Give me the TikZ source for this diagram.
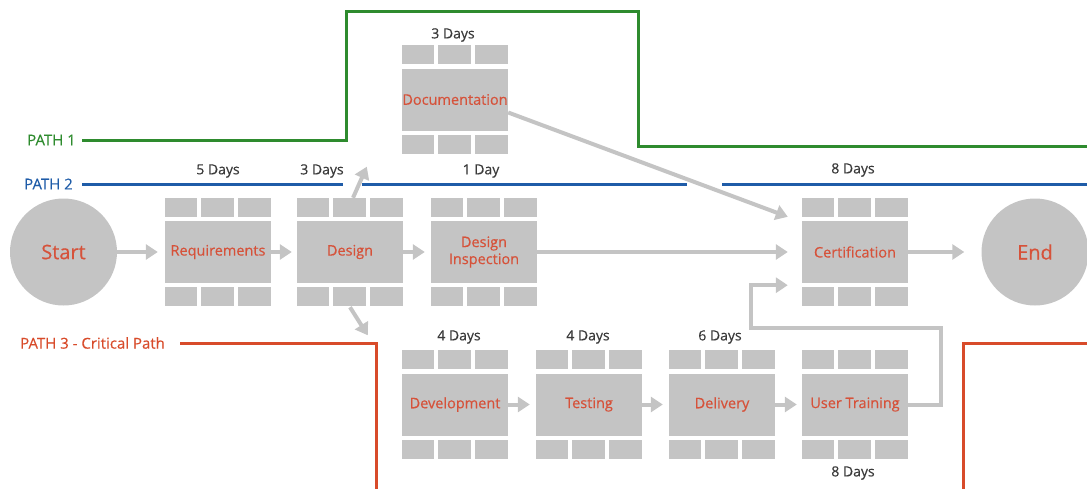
\documentclass[tikz,border=0pt]{standalone}
\usepackage{fontspec}
\setmainfont{Open Sans}[FakeBold=0.35]
\usetikzlibrary{arrows.meta,calc}

\definecolor{blockgray}{HTML}{C4C4C4}
\definecolor{labelred}{HTML}{D6523A}
\definecolor{pathgreen}{HTML}{2E8B2E}
\definecolor{pathblue}{HTML}{1F5CA8}
\definecolor{pathred}{HTML}{D84B2A}
\definecolor{daygray}{HTML}{3A3A3A}

\tikzset{
  task/.style={rectangle, fill=blockgray, minimum width=106pt, minimum height=62pt,
    inner sep=0pt, text=labelred, font=\fontsize{14.5}{17}\selectfont, align=center},
  terminal/.style={circle, fill=blockgray, minimum size=107pt, inner sep=0pt,
    text=labelred, font=\fontsize{20}{24}\selectfont},
  days/.style={text=daygray, font=\fontsize{14}{16}\selectfont, inner sep=0pt},
  pathlabel/.style={font=\fontsize{15}{17}\selectfont, inner sep=0pt, anchor=west},
  flow/.style={draw=blockgray, line width=4pt, line join=miter,
    -{Triangle[length=12pt,width=15pt]}},
  pathline/.style={line width=3pt},
}

% three small cells above and below a task block
\newcommand{\blockcells}[1]{%
  \foreach \k in {0,1,2}{%
    \fill[blockgray] ($(#1.north west)+(\k*36.67,-4)$) rectangle ++(32.67,-19);
    \fill[blockgray] ($(#1.south west)+(\k*36.67,4)$) rectangle ++(32.67,19);
  }}

\begin{document}
\begin{tikzpicture}[x=1pt, y=-1pt]
\useasboundingbox (0,0) rectangle (1087,488);

% path labels and path lines
\node[pathlabel, text=pathgreen] (p1) at (27,140) {PATH 1};
\node[pathlabel, text=pathblue] (p2) at (24,184) {PATH 2};
\node[pathlabel, text=pathred] (p3) at (20,343) {PATH 3 - Critical Path};

\draw[pathline, pathgreen] (82,140) -| (346,11) -| (638,146) -- (1090,146);
\draw[pathline, pathblue] (82,184) -- (343,184);
\draw[pathline, pathblue] (362,184) -- (687,184);
\draw[pathline, pathblue] (722,184) -- (1090,184);
\draw[pathline, pathred] (180,343) -| (376,492);
\draw[pathline, pathred] (963,492) |- (1090,343);

% start / end
\node[terminal] (start) at (63.5,252) {Start};
\node[terminal] (end) at (1035,252) {End};

% tasks
\node[task] (req) at (218,252) {Requirements};
\node[task] (des) at (350,252) {Design};
\node[task] (insp) at (484,252) {Design\\Inspection};
\node[task] (doc) at (455,99.5) {Documentation};
\node[task] (cert) at (855,252) {Certification};
\node[task] (dev) at (455,404.5) {Development};
\node[task] (test) at (589,404.5) {Testing};
\node[task] (deliv) at (722,404.5) {Delivery};
\node[task] (train) at (855,404.5) {User Training};

\foreach \b in {req,des,insp,doc,cert,dev,test,deliv,train}{\blockcells{\b}}

% durations
\node[days] (d1) at (218,171) {5 Days};
\node[days] (d2) at (322,171) {3 Days};
\node[days] (d3) at (481,171) {1 Day};
\node[days] (d4) at (853,170) {8 Days};
\node[days] (d5) at (453,35) {3 Days};
\node[days] (d6) at (459,337) {4 Days};
\node[days] (d7) at (588,337) {4 Days};
\node[days] (d8) at (720,337) {6 Days};
\node[days] (d9) at (853,473) {8 Days};

% flow arrows
\draw[flow, shorten >=7pt] (start) -- (req);
\draw[flow, shorten >=5pt] (req) -- (des);
\draw[flow, shorten >=6pt] (des) -- (insp);
\draw[flow, shorten >=14pt] (insp) -- (cert);
\draw[flow, shorten >=17pt] (cert) -- (end);
\draw[flow, shorten >=6pt] (dev) -- (test);
\draw[flow, shorten >=6pt] (test) -- (deliv);
\draw[flow, shorten >=5pt] (deliv) -- (train);

\draw[flow] ($(des.north)+(3,-23)$) -- ($(doc.south west)+(-35,36)$);
\draw[flow] ($(des.south)+(0,24)$) -- ($(dev.north west)+(-34,-38)$);
\draw[flow] ($(doc.east)+(0,13)$) -- ($(cert.north west)+(-14,-4)$);
\draw[flow] (train.east) -- ++(33,0) |- ($(cert.south west)+(-51,45)$)
  |- ($(cert.south west)+(-14,2)$);
\end{tikzpicture}
\end{document}
